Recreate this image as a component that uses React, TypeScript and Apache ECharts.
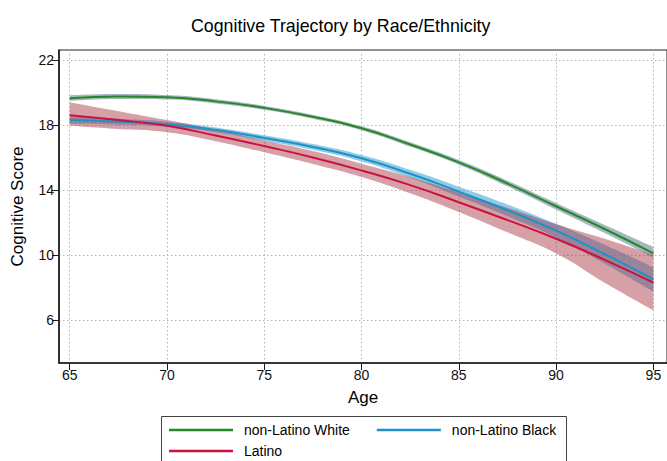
import React, { useEffect, useRef } from "react";
import * as echarts from "echarts";

const FONT = "'Liberation Sans', Arial, Helvetica, sans-serif";

const ages = [65, 67.5, 70, 72.5, 75, 77.5, 80, 82.5, 85, 87.5, 90, 92.5, 95];

const whiteMean = [19.65, 19.75, 19.7, 19.45, 19.05, 18.5, 17.8, 16.8, 15.7, 14.4, 13.0, 11.6, 10.1];
const whiteLower = [19.47, 19.59, 19.56, 19.32, 18.93, 18.38, 17.68, 16.67, 15.56, 14.23, 12.8, 11.35, 9.85];
const whiteUpper = [19.83, 19.91, 19.84, 19.58, 19.17, 18.62, 17.92, 16.93, 15.84, 14.57, 13.2, 11.85, 10.5];

const blackMean = [18.3, 18.2, 18.05, 17.7, 17.2, 16.65, 15.95, 15.0, 13.9, 12.75, 11.5, 10.05, 8.5];
const blackLower = [18.08, 18.02, 17.9, 17.55, 17.03, 16.47, 15.75, 14.76, 13.6, 12.39, 11.08, 9.47, 7.75];
const blackUpper = [18.52, 18.38, 18.2, 17.85, 17.37, 16.83, 16.15, 15.24, 14.2, 13.11, 11.92, 10.63, 9.25];

const latinoMean = [18.6, 18.3, 17.95, 17.35, 16.7, 16.0, 15.2, 14.3, 13.25, 12.15, 11.0, 9.7, 8.3];
const latinoLower = [17.95, 17.75, 17.55, 17.0, 16.32, 15.6, 14.8, 13.8, 12.65, 11.4, 10.1, 8.3, 6.6];
const latinoUpper = [19.4, 18.85, 18.3, 17.7, 17.05, 16.4, 15.62, 14.8, 13.85, 12.9, 11.9, 11.0, 10.0];

const xTicks = [65, 70, 75, 80, 85, 90, 95];
const yTicks = [6, 10, 14, 18, 22];

const names = ["non-Latino White", "non-Latino Black", "Latino"];
const lineColors = ["#248a24", "#2090c8", "#cc1040"];
const bandColors = ["rgba(95,120,150,0.55)", "rgba(70,170,215,0.6)", "rgba(165,45,60,0.45)"];

// Data is stored as [y, x] with encode so that the stacked dimension is y.
function bandSeries(key: string, lower: number[], upper: number[], color: string) {
  return [
    {
      type: "line",
      name: key + "_lo",
      data: ages.map((a, i) => [lower[i], a]),
      encode: { x: 1, y: 0 },
      stack: key,
      smooth: true,
      symbol: "none",
      lineStyle: { width: 0, opacity: 0 },
      silent: true,
      z: 1,
    },
    {
      type: "line",
      name: key + "_band",
      data: ages.map((a, i) => [upper[i] - lower[i], a]),
      encode: { x: 1, y: 0 },
      stack: key,
      smooth: true,
      symbol: "none",
      lineStyle: { width: 0, opacity: 0 },
      areaStyle: { color, opacity: 1 },
      silent: true,
      z: 1,
    },
  ];
}

function lineSeries(name: string, values: number[], color: string) {
  return {
    type: "line",
    name,
    data: ages.map((a, i) => [a, values[i]]),
    smooth: true,
    symbol: "none",
    color,
    itemStyle: { color },
    lineStyle: { width: 2, color },
    silent: true,
    z: 3,
  };
}

export default function App() {
  const ref = useRef<HTMLDivElement>(null);
  useEffect(() => {
    if (!ref.current) return;
    const chart = echarts.init(ref.current, undefined, { renderer: "svg" });
    const axisColor = "#1a1a1a";
    const split = { show: true, lineStyle: { type: [1.5, 2.5], color: "#b5b5b5", width: 1 } };
    const legendCommon = {
      orient: "horizontal",
      icon: "rect",
      itemWidth: 64,
      itemHeight: 2.5,
      itemGap: 27,
      padding: 0,
      selectedMode: false,
      textStyle: { fontSize: 14, color: "#000", fontFamily: FONT, lineHeight: 16, padding: [0, 0, 0, 6] },
    };
    chart.setOption({
      animation: false,
      backgroundColor: "#ffffff",
      title: {
        text: "Cognitive Trajectory by Race/Ethnicity",
        left: 186,
        top: 12,
        textStyle: { fontSize: 17.8, fontWeight: "normal", color: "#000", fontFamily: FONT },
      },
      grid: {
        left: 59,
        right: -3,
        top: 50,
        bottom: 98,
        show: true,
        borderColor: "#222",
        borderWidth: 1,
        backgroundColor: "transparent",
      },
      legend: [
        { ...legendCommon, data: [names[0], names[1]], left: 169, top: 422 },
        { ...legendCommon, data: [names[2]], left: 169, top: 443 },
      ],
      graphic: [
        {
          type: "rect",
          shape: { x: 161.5, y: 416.5, width: 405, height: 60 },
          style: { fill: "none", stroke: "#444", lineWidth: 1 },
          silent: true,
        },
      ],
      xAxis: {
        type: "value",
        min: 64.45,
        max: 95.7,
        name: "Age",
        nameLocation: "middle",
        nameGap: 26,
        nameTextStyle: { fontSize: 17, color: "#000", fontFamily: FONT },
        axisLine: { show: true, onZero: false, lineStyle: { color: axisColor, width: 1.6 } },
        axisTick: { show: true, length: 7, customValues: xTicks, lineStyle: { color: axisColor, width: 1 } },
        axisLabel: { customValues: xTicks, fontSize: 14, color: "#111", margin: 5, fontFamily: FONT },
        splitLine: split,
      },
      yAxis: {
        type: "value",
        min: 3.36,
        max: 22.61,
        name: "Cognitive Score",
        nameLocation: "middle",
        nameGap: 33,
        nameRotate: 90,
        nameTextStyle: { fontSize: 17, color: "#000", fontFamily: FONT },
        axisLine: { show: true, onZero: false, lineStyle: { color: axisColor, width: 1.6 } },
        axisTick: { show: true, length: 7, customValues: yTicks, lineStyle: { color: axisColor, width: 1 } },
        axisLabel: { customValues: yTicks, fontSize: 14, color: "#111", margin: 5, fontFamily: FONT },
        splitLine: split,
      },
      series: [
        ...bandSeries("w", whiteLower, whiteUpper, bandColors[0]),
        ...bandSeries("b", blackLower, blackUpper, bandColors[1]),
        ...bandSeries("l", latinoLower, latinoUpper, bandColors[2]),
        lineSeries(names[0], whiteMean, lineColors[0]),
        lineSeries(names[1], blackMean, lineColors[1]),
        lineSeries(names[2], latinoMean, lineColors[2]),
      ],
    });
    return () => chart.dispose();
  }, []);
  return <div ref={ref} style={{ position: "fixed", left: 0, top: 0, width: 667, height: 461 }} />;
}
